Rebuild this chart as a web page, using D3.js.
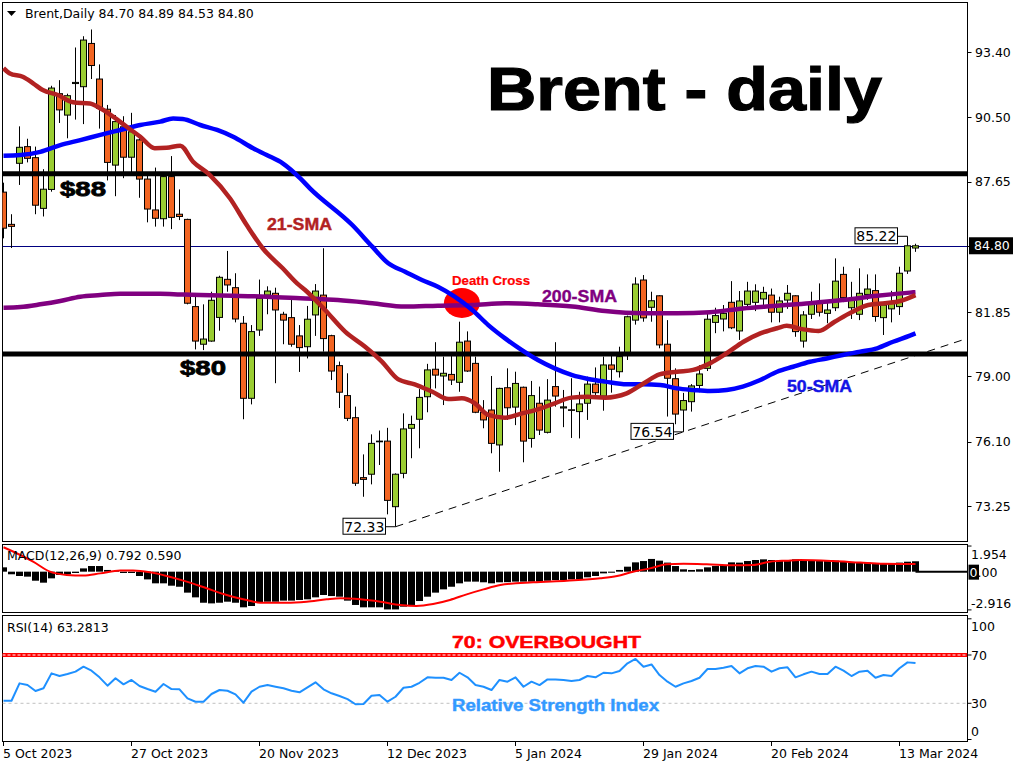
<!DOCTYPE html>
<html><head><meta charset="utf-8">
<script src="https://cdn.jsdelivr.net/npm/d3@7"></script>
<style>body{margin:0;background:#fff}svg{display:block}</style>
</head><body>
<svg id="c" width="1024" height="768"></svg>
<script>
// ---------- DATA ----------
const barDates = [
"2023-10-05","2023-10-06","2023-10-09","2023-10-10","2023-10-11","2023-10-12","2023-10-13","2023-10-16","2023-10-17","2023-10-18","2023-10-19","2023-10-20","2023-10-23","2023-10-24","2023-10-25","2023-10-26","2023-10-27","2023-10-30","2023-10-31",
"2023-11-01","2023-11-02","2023-11-03","2023-11-06","2023-11-07","2023-11-08","2023-11-09","2023-11-10","2023-11-13","2023-11-14","2023-11-15","2023-11-16","2023-11-17","2023-11-20","2023-11-21","2023-11-22","2023-11-23","2023-11-24","2023-11-27","2023-11-28","2023-11-29","2023-11-30",
"2023-12-01","2023-12-04","2023-12-05","2023-12-06","2023-12-07","2023-12-08","2023-12-11","2023-12-12","2023-12-13","2023-12-14","2023-12-15","2023-12-18","2023-12-19","2023-12-20","2023-12-21","2023-12-22","2023-12-26","2023-12-27","2023-12-28","2023-12-29",
"2024-01-02","2024-01-03","2024-01-04","2024-01-05","2024-01-08","2024-01-09","2024-01-10","2024-01-11","2024-01-12","2024-01-15","2024-01-16","2024-01-17","2024-01-18","2024-01-19","2024-01-22","2024-01-23","2024-01-24","2024-01-25","2024-01-26","2024-01-29","2024-01-30","2024-01-31",
"2024-02-01","2024-02-02","2024-02-05","2024-02-06","2024-02-07","2024-02-08","2024-02-09","2024-02-12","2024-02-13","2024-02-14","2024-02-15","2024-02-16","2024-02-19","2024-02-20","2024-02-21","2024-02-22","2024-02-23","2024-02-26","2024-02-27","2024-02-28","2024-02-29",
"2024-03-01","2024-03-04","2024-03-05","2024-03-06","2024-03-07","2024-03-08","2024-03-11","2024-03-12","2024-03-13","2024-03-14","2024-03-15"];

const open  = [87.18,85.75,88.46,89.2,88.71,86.46,87.3,91.55,90.6,92.0,91.86,93.78,92.2,90.86,88.38,90.08,88.73,89.5,87.76,86.39,86.0,87.87,86.2,85.97,82.1,80.43,80.57,81.62,83.31,82.94,81.36,78.03,81.06,82.61,82.69,81.76,81.61,80.8,80.32,81.73,82.61,80.81,79.48,78.15,77.17,74.51,74.66,76.13,76.13,73.22,74.7,76.7,77.1,78.1,79.32,79.02,79.09,78.74,80.57,79.58,77.41,77.51,75.96,78.5,77.64,78.52,76.25,77.81,76.52,78.55,77.6,77.52,77.44,77.81,78.66,78.13,79.51,79.21,79.95,81.5,83.28,82.07,82.58,80.43,78.9,77.51,77.88,78.6,79.36,81.4,81.55,82.29,81.02,82.2,82.29,82.44,82.61,81.85,82.39,82.58,80.57,81.76,82.25,81.8,82.05,83.53,82.05,81.76,82.64,82.81,81.61,82.0,82.1,83.68,84.70];
const high  = [87.6,86.2,90.1,89.55,89.2,88.2,91.9,92.15,91.55,93.6,94.1,94.4,92.85,91.05,90.6,90.55,90.7,89.7,88.0,88.27,87.9,88.78,87.3,86.0,82.7,82.2,82.76,83.47,84.57,83.58,81.68,81.28,83.3,83.0,82.94,81.87,82.5,81.28,82.13,83.1,84.69,80.85,79.66,79.14,77.66,75.54,76.43,76.6,76.72,74.7,77.36,77.26,78.44,79.56,80.52,79.88,79.91,81.43,81.0,79.88,77.95,79.02,78.5,79.36,79.21,78.55,78.8,78.55,78.88,80.52,78.4,78.92,78.32,78.99,79.4,79.88,79.95,80.32,81.7,83.4,83.5,82.76,82.6,81.5,79.36,78.27,78.66,79.5,81.85,82.05,82.17,83.23,82.79,83.2,83.09,82.98,82.9,82.54,83.06,82.6,81.9,82.76,83.13,82.39,84.24,83.87,83.2,83.8,83.53,83.53,82.2,82.8,83.87,85.22,84.89];
const low   = [85.13,84.7,87.5,88.5,86.2,86.1,87.2,90.25,89.57,90.4,90.2,92.2,90.0,87.7,87.0,87.8,88.0,86.93,85.84,85.65,85.65,85.54,85.94,82.2,80.2,80.17,80.54,81.03,82.76,81.4,77.1,77.76,80.8,81.76,78.7,80.43,80.32,79.2,79.8,80.8,80.1,78.84,77.6,77.02,74.14,73.66,74.21,75.07,72.88,72.33,74.48,75.37,75.81,77.41,78.47,77.73,78.62,78.32,79.2,77.37,76.7,75.59,74.77,77.07,76.84,75.19,75.84,76.4,76.47,77.66,76.75,76.27,76.25,77.07,78.18,77.48,78.28,78.95,79.73,81.3,81.43,81.43,80.25,77.22,76.88,76.54,77.44,78.3,79.24,80.92,81.0,81.1,80.62,82.0,81.9,82.0,81.4,81.4,82.0,80.76,80.28,81.55,81.66,81.36,81.9,82.3,81.55,81.5,82.4,81.43,80.84,81.4,81.73,83.55,84.53];
const close = [85.58,85.66,89.17,88.68,86.6,87.31,91.8,90.83,91.46,92.05,93.93,92.8,90.9,88.5,90.31,88.73,89.86,87.76,86.43,86.02,87.87,86.06,86.1,82.25,80.57,80.66,82.38,83.4,83.06,81.55,78.03,80.99,82.47,82.79,81.95,81.5,80.43,80.28,81.54,82.79,80.68,79.24,78.3,77.14,74.26,74.43,76.03,76.1,73.5,74.66,76.67,76.87,78.07,79.29,79.06,79.14,78.84,80.52,79.24,77.41,77.07,76.03,78.47,77.61,78.69,76.13,78.15,76.62,77.95,78.13,77.65,77.5,77.78,78.66,78.28,79.51,79.32,79.88,81.65,83.1,81.6,82.36,80.4,78.92,77.33,77.93,78.58,79.11,81.54,81.7,81.8,81.16,82.35,82.79,82.79,82.73,81.85,82.35,82.69,80.99,81.73,82.25,81.85,81.95,83.23,82.5,82.39,82.69,82.88,81.66,82.17,82.3,83.58,84.8,84.80];

// moving averages: bar position -> value
const sma21Pos = [0,0.8,2.4,3.7,4.9,6.8,8.7,10.8,12.1,13.7,15.4,17.1,18.9,20.4,22.1,23.7,25.8,28.3,30.4,32.4,34.9,36.7,37.7,40.2,42.7,45.2,47.3,49.3,51.4,53.6,55.6,57.3,58.9,60.6,62.7,64.8,66.8,68.9,71,73,75.2,77.9,80,82,84.2,86.2,88.3,90.4,92.5,94.6,96.7,97.9,99.8,101.9,103.9,106,108.1,110.2,112.1,114];
const sma21Val = [92.68,92.45,92.3,92.01,91.71,91.49,91.17,91.11,90.9,90.53,90.08,89.64,89.13,89.15,89.24,88.53,87.94,86.91,85.72,84.69,83.8,83.13,82.84,81.95,80.99,80.32,79.66,78.88,78.65,78.32,78.0,78.03,77.81,77.29,77.17,77.36,77.54,77.81,78.06,78.1,78.06,78.25,78.69,79.09,79.21,79.29,79.58,80.03,80.54,80.91,81.14,81.25,81.1,81.02,81.43,81.85,82.17,82.25,82.35,82.61];
const sma50Pos = [0,2.1,4.6,7.1,9.6,12.1,14.6,17.1,19.6,21.2,22.4,24.6,26.7,28.7,31.2,32.9,34.9,37.1,38.3,43.6,46.1,48.1,50.2,52.3,54.3,56.4,58.6,60.6,62.7,64.8,66.8,68.9,71.1,73.1,75.2,77.9,79.9,82.1,84.2,86.2,88.3,90.4,92.4,94.6,96.7,98.7,100.8,102.9,104.9,107.1,109.2,111.2,113.3,114];
const sma50Val = [88.8,88.83,88.97,89.27,89.49,89.72,89.94,90.16,90.31,90.45,90.43,90.16,89.94,89.64,89.13,88.83,88.46,87.79,87.35,85.72,84.76,84.02,83.65,83.28,82.98,82.54,81.95,81.28,80.69,80.17,79.73,79.36,79.06,78.89,78.77,78.65,78.65,78.62,78.47,78.4,78.35,78.4,78.55,78.84,79.21,79.43,79.65,79.8,79.95,80.1,80.25,80.54,80.81,80.91];
const sma200Pos = [0,2.1,4.6,7.1,9.6,12.1,14.6,19.6,22.1,24.6,28.7,32.9,37.1,41.8,46.1,50.2,54.3,58.6,62.7,66.8,71.1,75.2,79.9,84.2,88.3,92.4,96.7,100.8,104.9,109.2,113.3,114];
const sma200Val = [82.05,82.08,82.2,82.35,82.54,82.61,82.67,82.67,82.64,82.61,82.58,82.54,82.47,82.39,82.25,82.1,82.14,82.17,82.25,82.2,82.1,81.9,81.8,81.8,81.85,82.02,82.14,82.25,82.39,82.58,82.72,82.74];

// MACD(12,26,9): histogram per bar, signal line read at positions
const macdHist = [0.33,-0.2,-0.33,-0.38,-0.69,-0.84,-0.51,-0.25,-0.2,-0.1,0.25,0.43,0.43,0.13,0.05,-0.1,-0.1,-0.33,-0.59,-0.89,-0.89,-1.07,-1.15,-1.6,-1.96,-2.37,-2.42,-2.37,-2.29,-2.37,-2.72,-2.62,-2.37,-2.29,-2.29,-2.21,-2.21,-2.16,-2.11,-1.96,-1.78,-1.86,-1.91,-2.21,-2.54,-2.72,-2.72,-2.72,-2.88,-2.88,-2.67,-2.54,-2.24,-1.91,-1.6,-1.35,-1.15,-0.89,-0.76,-0.76,-0.81,-0.89,-0.81,-0.8,-0.76,-0.76,-0.76,-0.76,-0.69,-0.64,-0.64,-0.59,-0.59,-0.43,-0.33,-0.13,-0.08,0.13,0.38,0.71,0.81,0.97,0.84,0.69,0.43,0.18,0.13,0.18,0.33,0.43,0.51,0.71,0.69,0.81,0.89,0.94,0.89,0.84,0.89,0.94,0.89,0.84,0.81,0.81,0.84,0.76,0.71,0.69,0.69,0.64,0.64,0.64,0.69,0.76,0.792];
const signalPos = [0,2.1,3.7,5.8,7.9,10,12.1,14.6,16.2,18.3,20.4,22.9,25.4,27.9,30.4,32.1,35.4,37.9,40.4,42.1,44.6,47.1,49.6,51.6,53.7,55.8,57.9,60,62.1,66.2,70.4,74.6,76.7,78.7,80.8,82.9,85,87.9,91.2,93.7,95.8,97.9,99.6,103.7,107.1,110,114];
const signalVal = [1.86,1.27,0.76,0,-0.25,-0.3,-0.13,0.08,0.08,-0.05,-0.33,-0.76,-1.27,-1.78,-2.16,-2.37,-2.37,-2.29,-2.11,-2.03,-2.11,-2.29,-2.54,-2.62,-2.47,-2.16,-1.73,-1.35,-1.02,-0.81,-0.69,-0.51,-0.33,0,0.25,0.56,0.6,0.56,0.48,0.5,0.76,0.84,0.89,0.81,0.69,0.6,0.59];

// RSI(14) per bar
const rsi = [32.1,32.1,46.5,45.1,40.2,42.4,54.8,52.6,54.2,56.2,60.3,57,51.5,44.6,50.7,45.7,49.3,44.3,41.8,39.6,46,41.8,41.6,34.1,31.3,31.3,37.7,41,40.4,37.4,30.5,39.6,43.7,45.1,43.7,42.4,40.4,39.1,43.2,47.4,41.6,38.3,36,33.5,29.2,29.4,36.3,36.9,31.3,35.4,42.9,43.7,47,51.5,51.2,51.2,49.3,55.3,51.5,45.1,43.7,41,49.3,47.9,51.5,43.7,47.9,45.1,49.8,49.8,49.3,48.5,49.3,52.6,51.5,55.3,54.8,56.7,63.1,66.7,60.3,62.2,53.4,47.9,43.7,46.5,48.5,51.2,58.4,58.4,59.5,60.9,54.8,59,60.9,60.3,56.2,59,59.8,51.5,54,56.2,54.2,54.2,60.3,57,52.6,56.2,57,51.2,53.4,52.6,59,63.9,63.2813];

// axis labels
const priceTicks = [93.40,90.50,87.65,84.80,81.85,79.00,76.10,73.25];
const dateTickIdx = [0,16,32,48,64,80,96,112];
const dateTickLabels = ["5 Oct 2023","27 Oct 2023","20 Nov 2023","12 Dec 2023","5 Jan 2024","29 Jan 2024","20 Feb 2024","13 Mar 2024"];
const levels = [88, 80];
const trendPts = [[49,72.33],[85,76.54]];
const markLabels = [[49,72.33],[85,76.54],[113,85.22]];

// ---------- DRAW ----------
const svg = d3.select('#c');
const n = barDates.length;
const xb = d3.scaleBand().domain(d3.range(n)).range([-0.5, -0.5 + 8*n]);
const xc = i => xb(i) + xb.bandwidth()/2;
const xf = d3.scaleLinear().domain([0, n-1]).range([xc(0), xc(n-1)]);
const yP = d3.scaleLinear().domain([73.25, 93.40]).range([506, 52]);
const yM = d3.scaleLinear().domain([-3.13, 2.11]).range([612.7, 544]);
const yR = d3.scaleLinear().domain([0, 100]).range([739.5, 618.8]);

const SMALL = "'DejaVu Sans', Verdana, sans-serif";
const BOLD = "'Liberation Sans', Arial, sans-serif";
const L = 2.5, R = 967.5;

const defs = svg.append('defs');
defs.append('clipPath').attr('id','cm').append('rect').attr('x',L).attr('y',2.5).attr('width',R-L).attr('height',539);
defs.append('clipPath').attr('id','cd').append('rect').attr('x',L).attr('y',544.5).attr('width',R-L).attr('height',68);
defs.append('clipPath').attr('id','cr').append('rect').attr('x',L).attr('y',615.5).attr('width',R-L).attr('height',126);

// panel frames
[[2.5,541.5],[544.5,612.5],[615.5,741.5]].forEach(([t,b]) => {
  svg.append('rect').attr('x',L).attr('y',t).attr('width',R-L).attr('height',b-t)
    .attr('fill','none').attr('stroke','#000').attr('stroke-width',1);
});

// ---- main panel ----
const gm = svg.append('g').attr('clip-path','url(#cm)');

// trend line (dashed)
const slope = (trendPts[1][1]-trendPts[0][1])/(trendPts[1][0]-trendPts[0][0]);
const iEnd = xf.invert(965);
gm.append('line').attr('x1',xf(trendPts[0][0])).attr('y1',yP(trendPts[0][1]))
  .attr('x2',xf(iEnd)).attr('y2',yP(trendPts[0][1]+slope*(iEnd-trendPts[0][0])))
  .attr('stroke','#000').attr('stroke-width',1).attr('stroke-dasharray','8,6');

// last price line
gm.append('line').attr('x1',L).attr('x2',R).attr('y1',Math.round(yP(close[n-1]))+0.5).attr('y2',Math.round(yP(close[n-1]))+0.5)
  .attr('stroke','#000080').attr('stroke-width',1);

// death cross marker
gm.append('ellipse').attr('cx',xf(57.3)).attr('cy',yP(82.26)).attr('rx',18).attr('ry',15).attr('fill','#ff0000');

// candles
const idx = d3.range(n);
gm.selectAll('line.wick').data(idx).join('line').attr('class','wick')
  .attr('x1',i=>xc(i)).attr('x2',i=>xc(i)).attr('y1',i=>yP(high[i])).attr('y2',i=>yP(low[i]))
  .attr('stroke','#000').attr('stroke-width',1);
gm.selectAll('rect.body').data(idx).join('rect').attr('class','body')
  .attr('x',i=>xc(i)-3).attr('width',6)
  .attr('y',i=>yP(Math.max(open[i],close[i])))
  .attr('height',i=>Math.max(0.6, Math.abs(yP(open[i])-yP(close[i]))))
  .attr('fill',i=>close[i]>=open[i] ? '#9ACD32' : '#F26522')
  .attr('stroke','#000').attr('stroke-width',1);

// horizontal levels
gm.selectAll('line.lvl').data(levels).join('line').attr('class','lvl')
  .attr('x1',0).attr('x2',R+3).attr('y1',d=>yP(d)).attr('y2',d=>yP(d))
  .attr('stroke','#000').attr('stroke-width',5);

// moving averages
const maLine = d3.line().x(d=>xf(d[0])).y(d=>yP(d[1])).curve(d3.curveMonotoneX);
[[sma200Pos,sma200Val,'#800080'],[sma50Pos,sma50Val,'#0000FF'],[sma21Pos,sma21Val,'#B22222']].forEach(([p,v,c])=>{
  gm.append('path').attr('d',maLine(p.map((q,k)=>[q,v[k]])))
    .attr('fill','none').attr('stroke',c).attr('stroke-width',4.5).attr('stroke-linejoin','round');
});

// value labels with connectors
markLabels.forEach(([i,v])=>{
  const yy = yP(v), xr = xc(i)-10;
  gm.append('line').attr('x1',xr).attr('x2',xc(i)).attr('y1',yy).attr('y2',yy).attr('stroke','#000').attr('stroke-width',1);
  gm.append('rect').attr('x',xr-42.5).attr('y',yy-8.5).attr('width',42.5).attr('height',16).attr('fill','#fff').attr('stroke','#000').attr('stroke-width',1);
  gm.append('text').attr('x',xr-21.2).attr('y',yy+5).attr('text-anchor','middle')
    .attr('font-family',SMALL).attr('font-size',14).attr('fill','#000').text(v.toFixed(2));
});

// annotation texts
function ann(g, txt, x, y, size, len, color, stroke){
  g.append('text').attr('x',x).attr('y',y).attr('font-family',BOLD).attr('font-weight','bold')
   .attr('font-size',size).attr('textLength',len).attr('lengthAdjust','spacingAndGlyphs')
   .attr('fill',color).attr('stroke',color).attr('stroke-width',stroke||0.6).text(txt);
}
ann(svg,'Brent - daily',487,110,61,395,'#000',1.2);
ann(svg,'$88',60,196,21,46,'#000',0.8);
ann(svg,'$80',180,375,21,46,'#000',0.8);
ann(svg,'21-SMA',267,230,16,65,'#B22222',0.4);
ann(svg,'200-SMA',542,302,17,75,'#800080',0.4);
ann(svg,'50-SMA',787,392,17,65,'#1414E6',0.4);
ann(svg,'Death Cross',452,285,12.5,78,'#ff0000',0.2);

// header
svg.append('polygon').attr('points','7,11 16,11 11.5,16').attr('fill','#000');
svg.append('text').attr('x',25).attr('y',18).attr('font-family',SMALL).attr('font-size',12.5)
  .text('Brent,Daily  ' + [open[n-1],high[n-1],low[n-1],close[n-1]].map(v=>v.toFixed(2)).join(' '));

// price axis
svg.append('g').selectAll('g').data(priceTicks).join('g').each(function(v){
  const g=d3.select(this), yy=Math.round(yP(v))+0.5;
  g.append('line').attr('x1',R).attr('x2',R+4).attr('y1',yy).attr('y2',yy).attr('stroke','#000');
  g.append('text').attr('x',975).attr('y',yP(v)+4.5).attr('font-family',SMALL).attr('font-size',12.5).text(v.toFixed(2));
});
const yl = yP(close[n-1]);
svg.append('rect').attr('x',969).attr('y',yl-8.5).attr('width',44).attr('height',17).attr('fill','#000');
svg.append('text').attr('x',974).attr('y',yl+4.5).attr('font-family',SMALL).attr('font-size',12.5).attr('fill','#fff').text(close[n-1].toFixed(2));

// ---- MACD panel ----
const gd = svg.append('g').attr('clip-path','url(#cd)');
gd.append('line').attr('x1',xc(n-1)).attr('x2',R).attr('y1',yM(0)).attr('y2',yM(0)).attr('stroke','#000').attr('stroke-width',2);
gd.selectAll('rect').data(idx).join('rect')
  .attr('x',i=>xc(i)-3.5).attr('width',7)
  .attr('y',i=>yM(Math.max(0,macdHist[i]))).attr('height',i=>Math.abs(yM(macdHist[i])-yM(0)))
  .attr('fill','#000');
gd.append('path').attr('d',d3.line().x(d=>xf(d[0])).y(d=>yM(d[1])).curve(d3.curveMonotoneX)(signalPos.map((p,k)=>[p,signalVal[k]])))
  .attr('fill','none').attr('stroke','#ff0000').attr('stroke-width',2);
svg.append('text').attr('x',7).attr('y',560).attr('font-family',SMALL).attr('font-size',12.5)
  .text('MACD(12,26,9) ' + macdHist[n-1].toFixed(3) + ' ' + signalVal[signalVal.length-1].toFixed(3));
[[1.954,12.5],[-2.916,-1.5]].forEach(([v,off])=>{
  svg.append('line').attr('x1',R).attr('x2',R+4).attr('y1',yM(v)).attr('y2',yM(v)).attr('stroke','#000');
  svg.append('text').attr('x',971).attr('y',yM(v)+off).attr('font-family',SMALL).attr('font-size',12.5).text(v.toFixed(3));
});
svg.append('rect').attr('x',968.5).attr('y',yM(0)-7).attr('width',10.5).attr('height',15).attr('fill','#000');
const zt = svg.append('text').attr('x',969.5).attr('y',yM(0)+5).attr('font-family',SMALL).attr('font-size',12.5);
zt.append('tspan').attr('fill','#fff').text('0');
zt.append('tspan').attr('fill','#000').text('.00');

// ---- RSI panel ----
const gr = svg.append('g').attr('clip-path','url(#cr)');
gr.append('line').attr('x1',L).attr('x2',R).attr('y1',yR(30)).attr('y2',yR(30)).attr('stroke','#c0c0c0').attr('stroke-dasharray','3,3');
gr.append('line').attr('x1',0).attr('x2',R).attr('y1',yR(70)).attr('y2',yR(70)).attr('stroke','#ff0000').attr('stroke-width',4);
gr.append('line').attr('x1',L).attr('x2',R).attr('y1',yR(70)).attr('y2',yR(70)).attr('stroke','#ffffff').attr('stroke-width',1).attr('stroke-dasharray','3,2');
gr.append('path').attr('d',d3.line().x((d,i)=>xc(i)).y(d=>yR(d))(rsi))
  .attr('fill','none').attr('stroke','#1E90FF').attr('stroke-width',2).attr('stroke-linejoin','round');
ann(svg,'70: OVERBOUGHT',452,648,17,189,'#ff0000',0.5);
ann(svg,'Relative Strength Index',452,711,16,207,'#3399FF',0.4);
svg.append('text').attr('x',7).attr('y',632).attr('font-family',SMALL).attr('font-size',12.5)
  .text('RSI(14) ' + rsi[n-1].toFixed(4));
[[100,11.7],[70,4.5],[30,4.5],[0,-3.5]].forEach(([v,off])=>{
  svg.append('line').attr('x1',R).attr('x2',R+4).attr('y1',yR(v)).attr('y2',yR(v)).attr('stroke','#000');
  svg.append('text').attr('x',971).attr('y',yR(v)+off).attr('font-family',SMALL).attr('font-size',12.5).text(String(v));
});

// date axis
dateTickIdx.forEach((i,k)=>{
  const xx = Math.round(xc(i))-0.5;
  svg.append('line').attr('x1',xx).attr('x2',xx).attr('y1',741.5).attr('y2',746).attr('stroke','#000');
  svg.append('text').attr('x',xx-0.5).attr('y',758).attr('font-family',SMALL).attr('font-size',12.5).text(dateTickLabels[k]);
});
</script>
</body></html>
